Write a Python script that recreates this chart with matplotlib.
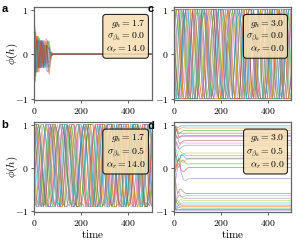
import numpy as np
import matplotlib
matplotlib.use("Agg")
import matplotlib.pyplot as plt

plt.rcParams['mathtext.fontset'] = 'cm'
plt.rcParams['font.family'] = 'serif'
plt.rcParams['font.serif'] = ['cmr10', 'DejaVu Serif']
plt.rcParams['axes.unicode_minus'] = False

# ---------------- data ----------------
T_MAX = 500
x_ticks = [0, 200, 400]
x_tick_labels = ['$0$', '$200$', '$400$']
y_ticks = [-1, 0, 1]
y_tick_labels = ['$-1$', '$0$', '$1$']
panel_letters = ['a', 'b', 'c', 'd']
params_a = [r'$g_h = 1.7$', r'$\sigma_{\beta_h} = 0.0$', r'$\alpha_r = 14.0$']
params_b = [r'$g_h = 1.7$', r'$\sigma_{\beta_h} = 0.5$', r'$\alpha_r = 14.0$']
params_c = [r'$g_h = 3.0$', r'$\sigma_{\beta_h} = 0.0$', r'$\alpha_r = 0.0$']
params_d = [r'$g_h = 3.0$', r'$\sigma_{\beta_h} = 0.5$', r'$\alpha_r = 0.0$']

# panel a: decaying transients (values phi at times_a)
times_a = [0, 4, 8, 12, 16, 20, 24, 28, 32, 36, 40, 46, 52, 58, 64, 70, 76, 82, 88, 100, 115, 500]
traces_a = [
    [1.0, 0.4, -0.3, 0.3, 0.2, -0.3, -0.2, 0.2, 0.3, 0.0, -0.3, 0.2, 0.1, -0.15, 0.05, 0.02, 0.0, 0, 0, 0, 0, 0],
    [-1.0, -0.5, 0.2, 0.4, -0.1, -0.4, 0.0, 0.3, 0.2, -0.2, -0.2, 0.1, 0.25, -0.1, -0.1, 0.05, 0.02, 0, 0, 0, 0, 0],
    [0.8, -0.2, -0.5, 0.1, 0.4, 0.1, -0.3, -0.2, 0.2, 0.3, -0.1, -0.3, 0.1, 0.3, 0.1, -0.05, -0.03, 0.01, 0, 0, 0, 0],
    [-0.7, 0.3, 0.5, -0.1, -0.4, 0.0, 0.35, 0.1, -0.3, -0.1, 0.25, -0.15, -0.2, 0.1, 0.15, 0.0, -0.03, 0, 0, 0, 0, 0],
    [0.5, 0.6, 0.0, -0.4, -0.1, 0.3, 0.2, -0.2, -0.3, 0.1, 0.3, 0.0, -0.35, -0.4, -0.1, 0.05, 0.03, 0, 0, 0, 0, 0],
    [-0.4, -0.6, -0.2, 0.3, 0.3, -0.2, -0.3, 0.1, 0.3, 0.0, -0.2, 0.3, 0.2, -0.2, -0.45, -0.2, 0.02, 0.02, 0, 0, 0, 0],
    [0.9, 0.6, 0.1, -0.3, -0.4, 0.0, 0.3, 0.3, -0.1, -0.3, 0.0, 0.3, 0.35, 0.1, -0.1, -0.05, 0.0, 0, 0, 0, 0, 0],
    [-0.9, -0.2, 0.4, 0.2, -0.3, -0.3, 0.2, 0.3, -0.1, -0.3, 0.1, 0.2, -0.2, 0.2, 0.3, 0.1, -0.02, 0, 0, 0, 0, 0],
    [0.2, -0.4, -0.3, 0.2, 0.4, 0.0, -0.4, -0.1, 0.3, 0.2, -0.2, -0.2, 0.2, 0.3, 0.0, -0.1, -0.02, 0, 0, 0, 0, 0],
    [-0.2, 0.5, 0.3, -0.3, -0.3, 0.2, 0.3, -0.1, -0.3, 0.0, 0.3, 0.1, -0.25, -0.3, -0.05, 0.05, 0.01, 0, 0, 0, 0, 0],
    [0.6, 0.0, -0.4, -0.2, 0.3, 0.3, -0.1, -0.3, 0.0, 0.3, 0.1, -0.3, 0.0, 0.2, 0.05, -0.02, 0, 0, 0, 0, 0, 0],
    [-0.6, 0.0, 0.3, 0.4, 0.0, -0.3, -0.2, 0.2, 0.3, -0.1, -0.3, 0.2, 0.3, -0.3, -0.4, -0.1, 0.03, 0.01, 0, 0, 0, 0],
    [0.95, 0.2, -0.2, -0.4, 0.1, 0.4, 0.1, -0.3, -0.2, 0.2, 0.2, -0.2, 0.1, 0.3, 0.2, 0.0, -0.02, 0, 0, 0, 0, 0],
    [-0.8, -0.6, 0.1, 0.4, 0.2, -0.3, -0.3, 0.1, 0.3, 0.1, -0.3, 0.0, 0.2, -0.1, -0.2, -0.05, 0.0, 0, 0, 0, 0, 0],
    [0.3, 0.5, -0.1, -0.4, 0.0, 0.3, 0.1, -0.3, -0.1, 0.3, 0.1, -0.2, -0.3, 0.1, 0.15, 0.02, 0, 0, 0, 0, 0, 0],
    [-0.3, -0.5, 0.1, 0.3, 0.1, -0.3, -0.1, 0.3, 0.2, -0.2, -0.2, 0.2, 0.2, -0.2, -0.3, -0.1, 0.0, 0, 0, 0, 0, 0],
]

# panel b: irregular oscillations, phi in tenths, evenly sampled over 0..500
traces_b_tenths = [
    [10,7,-1,-8,-9,-4,5,10,8,0,-8,-9,-3,6,10,7,-2,-9,-8,-1,7,10,6,-3,-9,-9,-2,7,10,8,-1,-8,-9,-4,5,10,10,1,-7,-9,-5,4,10,8,0,-8,-9,-3,6,10,7],
    [-6,2,8,10,5,-4,-9,-8,0,8,10,6,-3,-9,-9,-1,7,10,8,-1,-8,-9,-5,4,10,10,2,-7,-9,-6,3,10,10,4,-5,-9,-8,1,8,10,6,-3,-9,-9,-2,6,10,8,0,-8,-9],
    [3,10,10,3,-6,-9,-7,2,8,10,4,-5,-9,-8,1,8,10,5,-4,-9,-9,-2,6,10,8,0,-8,-9,-4,5,10,7,-2,-9,-9,-1,7,10,6,-3,-9,-8,0,8,10,5,-5,-9,-9,-1,7],
    [0,-7,-9,-6,3,10,10,2,-7,-9,-5,4,10,8,-1,-8,-9,-3,6,10,7,-2,-9,-9,-1,7,10,6,-4,-9,-8,1,8,10,4,-6,-9,-7,2,10,10,3,-6,-9,-6,3,10,10,2,-7,-9],
    [5,10,10,6,-2,-7,-9,-9,-6,1,7,10,10,7,0,-6,-9,-9,-8,-2,6,10,10,8,2,-5,-9,-9,-7,-1,5,10,10,10,4,-4,-8,-9,-9,-4,3,8,10,10,5,-3,-8,-9,-8,-3,4],
    [8,4,-5,-9,-8,0,8,10,5,-4,-9,-9,-1,7,10,7,-2,-8,-9,-4,5,10,8,0,-8,-9,-5,4,10,10,2,-7,-9,-6,3,10,8,-1,-8,-9,-3,6,10,7,-2,-9,-9,-1,7,10,6],
    [-8,-9,-7,-1,5,10,10,10,3,-5,-9,-9,-8,-2,5,10,10,10,5,-3,-8,-9,-9,-5,2,8,10,10,6,-2,-8,-9,-9,-6,1,7,10,10,8,1,-6,-9,-9,-7,0,7,10,10,10,3,-5],
    [-9,-8,-1,7,10,6,-3,-9,-9,-2,6,10,8,0,-8,-9,-5,4,10,10,3,-6,-9,-7,2,8,10,4,-5,-9,-8,1,8,10,6,-3,-9,-9,-2,6,10,8,-1,-8,-9,-4,5,10,10,2,-7],
    [1,-5,-9,-9,-8,-3,4,8,10,10,6,-1,-7,-9,-9,-6,1,7,10,10,8,2,-5,-9,-9,-8,-2,5,10,10,10,4,-4,-9,-9,-9,-3,4,10,10,10,5,-3,-8,-9,-9,-4,3,8,10,10],
    [6,-2,-8,-9,-5,4,10,10,3,-6,-9,-7,2,10,10,5,-4,-9,-8,1,8,10,6,-3,-9,-9,-1,7,10,7,-2,-9,-9,-3,6,10,8,0,-8,-9,-4,5,10,10,1,-7,-9,-6,3,10,10],
    [10,10,8,3,-4,-8,-9,-9,-5,2,8,10,10,7,-1,-7,-9,-9,-7,0,6,10,10,10,4,-4,-9,-9,-9,-3,4,10,10,10,6,-2,-8,-9,-9,-5,2,8,10,10,7,0,-7,-9,-9,-6,1],
    [-4,-9,-9,-2,7,10,7,-2,-8,-9,-3,6,10,10,1,-7,-9,-6,3,10,8,-1,-8,-9,-4,5,10,10,2,-7,-9,-5,4,10,8,-1,-8,-9,-2,7,10,7,-3,-9,-9,0,8,10,5,-4,-9],
    [-3,3,8,10,10,7,1,-6,-9,-9,-7,-1,6,10,10,8,2,-5,-9,-9,-8,-2,5,10,10,10,3,-5,-9,-9,-6,1,7,10,10,7,0,-7,-9,-9,-6,2,8,10,10,6,-2,-8,-9,-8,-3],
    [10,10,5,-4,-9,-8,1,8,10,5,-5,-9,-9,-1,7,10,7,-2,-9,-9,-2,6,10,8,0,-8,-9,-5,4,10,10,2,-7,-9,-7,2,10,10,4,-5,-9,-8,0,8,10,6,-3,-9,-9,-2,6],
    [7,2,-5,-9,-9,-7,0,6,10,10,8,2,-6,-9,-9,-6,1,8,10,10,6,-2,-8,-9,-9,-4,3,10,10,10,5,-3,-8,-9,-8,-2,5,10,10,10,3,-5,-9,-9,-7,0,7,10,10,8,1],
    [2,8,10,6,-3,-9,-9,-3,6,10,8,0,-8,-9,-4,5,10,10,2,-7,-9,-6,3,10,10,4,-5,-9,-8,1,8,10,5,-4,-9,-9,-1,7,10,7,-2,-8,-9,-3,6,10,8,-1,-8,-9,-5],
    [-2,-8,-9,-5,4,10,10,3,-6,-9,-8,0,8,10,6,-3,-9,-9,-2,7,10,7,-2,-8,-9,-4,5,10,10,1,-7,-9,-6,3,10,8,-1,-8,-9,-3,6,10,8,0,-8,-9,-5,4,10,10,3],
    [10,10,3,-6,-9,-7,2,10,10,4,-5,-9,-8,1,8,10,5,-4,-9,-9,-1,7,10,7,-2,-9,-9,-3,6,10,8,0,-8,-9,-5,4,10,10,2,-7,-9,-6,3,10,10,4,-5,-9,-8,1,8],
    [7,10,8,0,-8,-9,-5,4,10,10,2,-7,-9,-6,3,10,8,-1,-8,-9,-3,6,10,7,-2,-9,-9,-1,7,10,6,-4,-9,-8,1,8,10,5,-4,-9,-9,-2,6,10,8,-1,-8,-9,-4,5,10],
    [-5,-9,-9,-3,6,10,8,-1,-8,-9,-4,5,10,10,1,-7,-9,-6,3,10,10,4,-5,-9,-8,0,8,10,6,-3,-9,-9,-2,7,10,7,-2,-8,-9,-5,4,10,10,3,-6,-9,-7,2,10,10,5],
]

# panel c: saturated irregular oscillations, phi in tenths, evenly sampled over 0..500
traces_c_tenths = [
    [10,10,4,-7,-10,-10,-2,8,10,6,-5,-10,-10,0,10,10,10,2,-8,-10,-6,5,10,10,-1,-10,-10,-4,7,10,10,3,-7,-10,-8,2,10,10,7,-4,-10,-10,1,10,10,5,-6,-10,-10,-1,8],
    [10,10,10,10,3,-6,-10,-10,-10,-10,-4,5,10,10,2,-3,4,10,10,10,10,-2,-10,-10,-10,-10,-10,-3,6,10,10,10,-1,-8,-10,-10,-1,7,10,10,10,10,4,-6,-10,-10,-10,-5,3,10,10],
    [-10,-5,6,10,10,1,-8,-10,-3,8,10,8,-2,-10,-10,-6,5,10,10,3,-7,-10,-10,1,10,10,6,-5,-10,-8,3,10,10,10,-1,-10,-10,-5,6,10,8,-3,-10,-10,-2,8,10,10,4,-7,-10],
    [-10,-10,-10,-2,7,10,10,10,10,1,-8,-10,-10,-10,0,8,10,10,10,-3,-10,-10,-4,3,-2,-10,-10,-10,-10,1,10,10,10,10,10,2,-8,-10,-10,-10,-4,6,10,10,10,10,-2,-10,-10,-10,-10],
    [3,10,10,6,-5,-10,-10,-1,10,10,10,2,-8,-10,-6,4,10,10,0,-10,-10,-7,3,10,10,8,-2,-10,-10,0,10,10,5,-6,-10,-10,-3,7,10,10,2,-8,-10,-7,4,10,10,8,-3,-10,-10],
    [2,-4,-10,-10,-10,-10,-10,0,10,10,10,10,5,-4,-10,-10,-10,-2,7,10,10,10,10,10,3,-7,-10,-10,-10,-10,-2,8,10,10,5,-5,-10,-10,-10,-6,4,10,10,10,10,10,0,-10,-10,-10,-6],
    [-4,-10,-10,1,10,10,7,-3,-10,-10,-5,6,10,10,2,-8,-10,-2,8,10,10,-1,-10,-10,-8,3,10,10,6,-5,-10,-10,0,10,10,3,-7,-10,-10,-4,7,10,10,1,-8,-10,-3,7,10,10,6],
    [6,10,10,10,10,10,-1,-10,-10,-10,-5,5,10,10,10,10,10,3,-7,-10,-10,-10,-10,-10,-2,8,10,10,10,10,-3,-10,-10,-10,-10,-1,8,10,10,10,10,1,-8,-10,-10,-10,-10,-3,7,10,10],
    [8,2,-8,-10,-6,5,10,10,10,-1,-10,-10,-3,7,10,6,-5,-10,-10,-10,0,10,10,4,-6,-10,-10,2,10,10,10,-2,-10,-10,-5,5,10,10,0,-10,-10,-2,8,10,10,5,-6,-10,-10,-1,10],
    [-3,5,10,10,10,-2,-10,-10,-10,-10,-10,-1,8,10,10,10,10,10,-1,-10,-10,-10,-4,6,10,10,10,10,10,2,-8,-10,-10,-10,-10,-3,7,10,10,10,10,-1,-10,-10,-10,-10,3,10,10,10,10],
    [0,-8,-10,-4,7,10,10,3,-7,-10,-10,2,10,10,8,-3,-10,-7,4,10,10,10,1,-8,-10,-10,-1,8,10,5,-5,-10,-10,1,10,10,10,-2,-10,-10,-6,5,10,10,2,-8,-10,-4,6,10,10],
    [10,10,10,-1,-10,-10,-10,-10,2,10,10,10,10,10,1,-8,-10,-10,-10,-10,-10,0,10,10,10,10,4,-6,-10,-10,-10,1,10,10,10,10,10,-2,-10,-10,-10,-10,-10,-1,8,10,10,10,-2,-10,-10],
    [-10,-10,-2,8,10,5,-6,-10,-10,-1,10,10,10,0,-10,-10,-5,6,10,10,-2,-10,-10,-7,4,10,10,7,-4,-10,-10,0,10,10,4,-6,-10,-10,-10,2,10,10,6,-5,-10,-10,1,10,10,8,-3],
    [7,10,10,0,-10,-10,-6,4,10,10,3,-7,-10,-4,7,10,10,10,-1,-10,-10,-3,7,10,8,-2,-10,-10,-10,3,10,10,5,-6,-10,-7,4,10,10,10,0,-10,-10,-2,8,10,7,-4,-10,-10,-5],
    [-6,2,10,10,8,-3,-10,-10,0,10,10,6,-5,-10,-10,-10,2,10,10,4,-6,-10,-3,7,10,10,10,-1,-10,-10,-6,5,10,10,1,-8,-10,-10,3,10,10,7,-4,-10,-10,-1,10,10,10,2,-8],
    [4,-5,-10,-10,2,10,10,10,-2,-10,-10,-4,7,10,10,1,-8,-10,-7,4,10,10,6,-5,-10,-10,0,10,10,10,3,-7,-10,-10,-2,8,10,6,-5,-10,-10,1,10,10,10,-1,-10,-10,-6,5,10],
    [10,6,-4,-10,-10,-2,8,10,10,3,-7,-10,-10,1,10,10,5,-6,-10,-2,8,10,10,10,-2,-10,-10,-5,6,10,10,-1,-10,-10,-8,3,10,10,7,-4,-10,-10,0,10,10,4,-6,-10,-10,-3,7],
    [-8,-10,-10,-1,10,10,4,-6,-10,-10,3,10,10,10,0,-10,-10,-7,4,10,10,2,-8,-10,-4,7,10,10,8,-3,-10,-10,0,10,10,6,-5,-10,-10,-10,1,10,10,3,-7,-10,-6,5,10,10,10],
    [5,10,7,-3,-10,-10,0,10,10,10,-2,-10,-10,-5,6,10,10,1,-8,-10,-10,2,10,10,6,-4,-10,-10,-3,7,10,10,0,-10,-10,-6,5,10,10,10,-1,-10,-10,2,10,10,7,-4,-10,-10,-2],
    [-2,-10,-10,-6,5,10,10,1,-8,-10,-3,8,10,10,4,-6,-10,-10,-1,10,10,7,-4,-10,-10,-10,2,10,10,5,-5,-10,-2,8,10,10,10,-1,-10,-10,-5,6,10,10,0,-10,-10,-7,4,10,10],
]

# panel d: transients settling to fixed points (values phi at times_d)
times_d = [0, 3, 6, 10, 15, 20, 25, 30, 40, 50, 60, 80, 100, 150, 500]
traces_d = [
    [0.5, 0.9, 0.97, 0.95, 0.93, 0.94, 0.96, 0.97, 0.97, 0.97, 0.97, 0.97, 0.97, 0.97, 0.97],
    [-0.3, 0.6, 0.9, 0.95, 0.9, 0.88, 0.9, 0.92, 0.93, 0.92, 0.92, 0.92, 0.92, 0.92, 0.92],
    [0.9, 0.7, 0.8, 0.9, 0.88, 0.82, 0.8, 0.83, 0.86, 0.86, 0.86, 0.86, 0.86, 0.86, 0.86],
    [0.0, 0.5, 0.85, 0.88, 0.8, 0.72, 0.7, 0.73, 0.76, 0.75, 0.75, 0.75, 0.75, 0.75, 0.75],
    [0.7, 0.9, 0.8, 0.7, 0.68, 0.7, 0.72, 0.73, 0.72, 0.72, 0.72, 0.72, 0.72, 0.72, 0.72],
    [-0.6, 0.1, 0.6, 0.75, 0.7, 0.6, 0.55, 0.58, 0.62, 0.63, 0.63, 0.63, 0.63, 0.63, 0.63],
    [0.3, 0.75, 0.7, 0.55, 0.45, 0.47, 0.52, 0.56, 0.58, 0.57, 0.57, 0.57, 0.57, 0.57, 0.57],
    [-0.8, -0.2, 0.4, 0.6, 0.55, 0.45, 0.42, 0.46, 0.5, 0.52, 0.52, 0.52, 0.52, 0.52, 0.52],
    [0.8, 0.5, 0.3, 0.25, 0.3, 0.38, 0.4, 0.36, 0.32, 0.34, 0.34, 0.34, 0.34, 0.34, 0.34],
    [-0.5, 0.2, 0.45, 0.4, 0.3, 0.22, 0.2, 0.28, 0.32, 0.29, 0.28, 0.28, 0.28, 0.28, 0.28],
    [0.1, 0.3, 0.35, 0.25, 0.15, 0.15, 0.22, 0.3, 0.28, 0.22, 0.21, 0.22, 0.22, 0.22, 0.22],
    [0.6, 0.2, 0.0, 0.05, 0.15, 0.22, 0.2, 0.15, 0.12, 0.18, 0.2, 0.2, 0.2, 0.2, 0.2],
    [-0.2, 0.2, 0.3, 0.2, 0.05, 0.0, 0.05, 0.15, 0.18, 0.1, 0.08, 0.09, 0.09, 0.09, 0.09],
    [0.4, 0.1, -0.1, 0.0, 0.15, 0.2, 0.1, -0.05, -0.1, -0.05, 0.0, 0.0, 0.0, 0.0, 0.0],
    [0.2, -0.1, -0.3, -0.2, 0.0, 0.1, 0.05, -0.1, -0.28, -0.3, -0.26, -0.25, -0.25, -0.25, -0.25],
    [-0.9, -0.5, -0.3, -0.45, -0.6, -0.55, -0.5, -0.5, -0.56, -0.6, -0.6, -0.6, -0.6, -0.6, -0.6],
    [0.3, -0.4, -0.8, -0.75, -0.6, -0.55, -0.6, -0.66, -0.67, -0.65, -0.65, -0.65, -0.65, -0.65, -0.65],
    [-0.2, -0.6, -0.8, -0.78, -0.7, -0.65, -0.64, -0.67, -0.71, -0.71, -0.71, -0.71, -0.71, -0.71, -0.71],
    [0.9, 0.2, -0.5, -0.8, -0.85, -0.8, -0.75, -0.74, -0.76, -0.76, -0.76, -0.76, -0.76, -0.76, -0.76],
    [-0.7, -0.9, -0.85, -0.78, -0.76, -0.8, -0.83, -0.83, -0.82, -0.82, -0.82, -0.82, -0.82, -0.82, -0.82],
    [0.6, -0.2, -0.8, -0.92, -0.9, -0.86, -0.85, -0.87, -0.87, -0.87, -0.87, -0.87, -0.87, -0.87, -0.87],
    [-1.0, -0.95, -0.85, -0.8, -0.84, -0.88, -0.9, -0.9, -0.9, -0.9, -0.9, -0.9, -0.9, -0.9, -0.9],
    [0.0, -0.7, -0.95, -0.97, -0.93, -0.92, -0.93, -0.94, -0.94, -0.94, -0.94, -0.94, -0.94, -0.94, -0.94],
    [-0.5, -0.9, -0.98, -0.97, -0.96, -0.97, -0.97, -0.97, -0.97, -0.97, -0.97, -0.97, -0.97, -0.97, -0.97],
    [0.7, -0.5, -0.95, -1.0, -0.99, -0.98, -0.99, -0.99, -0.99, -0.99, -0.99, -0.99, -0.99, -0.99, -0.99],
    [0.2, 0.85, 0.95, 0.9, 0.82, 0.78, 0.8, 0.8, 0.8, 0.8, 0.8, 0.8, 0.8, 0.8, 0.8],
]

# ---------------- figure ----------------
W, H = 298, 245
fig = plt.figure(figsize=(W / 100, H / 100), dpi=100)

def rect(l, t, r, b):
    return [l / W, 1 - b / H, (r - l) / W, (b - t) / H]

ax_a = fig.add_axes(rect(34, 7, 152, 100))
ax_b = fig.add_axes(rect(34, 122, 152, 212))
ax_c = fig.add_axes(rect(174, 7, 291, 100))
ax_d = fig.add_axes(rect(174, 122, 291, 212))

LW = 0.55
ALPHA = 0.6
colors = plt.rcParams['axes.prop_cycle'].by_key()['color']

def draw_traces(ax, times_list, traces, scale=1.0):
    for i, tr in enumerate(traces):
        vals = np.asarray(tr, dtype=float) * scale
        if times_list is None:
            tt = np.linspace(0, T_MAX, len(vals))
        else:
            tt = np.asarray(times_list, dtype=float)
        ax.plot(tt, vals, lw=LW, alpha=ALPHA, color=colors[i % len(colors)])

draw_traces(ax_a, times_a, traces_a)
draw_traces(ax_b, None, traces_b_tenths, 0.1)
draw_traces(ax_c, None, traces_c_tenths, 0.1)
draw_traces(ax_d, times_d, traces_d)

for ax, params in [(ax_a, params_a), (ax_b, params_b), (ax_c, params_c), (ax_d, params_d)]:
    ax.set_xlim(0, T_MAX)
    ax.set_ylim(-1.03, 1.06)
    ax.set_xticks(x_ticks)
    ax.set_xticklabels(x_tick_labels)
    ax.set_yticks(y_ticks)
    ax.set_yticklabels(y_tick_labels)
    ax.tick_params(labelsize=7, length=2.5, width=0.6, pad=1.5, color='#444444')
    for s in ax.spines.values():
        s.set_color('#666666')
        s.set_linewidth(0.9)
    ax.text(0.945, 0.885, '\n'.join(params), transform=ax.transAxes, ha='right', va='top',
            fontsize=7, linespacing=1.08,
            bbox=dict(boxstyle='round,pad=0.3', fc='wheat', ec='black', lw=0.8, alpha=0.85))

for ax in (ax_a, ax_b):
    ax.set_ylabel(r'$\phi(h)$', fontsize=8)
    ax.yaxis.set_label_coords(-0.115, 0.5)
for ax in (ax_b, ax_d):
    ax.set_xlabel(r'$\mathrm{time}$', fontsize=8, labelpad=0)

for letter, (px, py) in zip(panel_letters, [(5, 9), (5, 125), (151, 9), (151, 126)]):
    fig.text(px / W, 1 - py / H, letter, fontsize=8, fontweight='bold',
             family='Liberation Sans', ha='center', va='center')

fig.savefig('out.png', dpi=100)
